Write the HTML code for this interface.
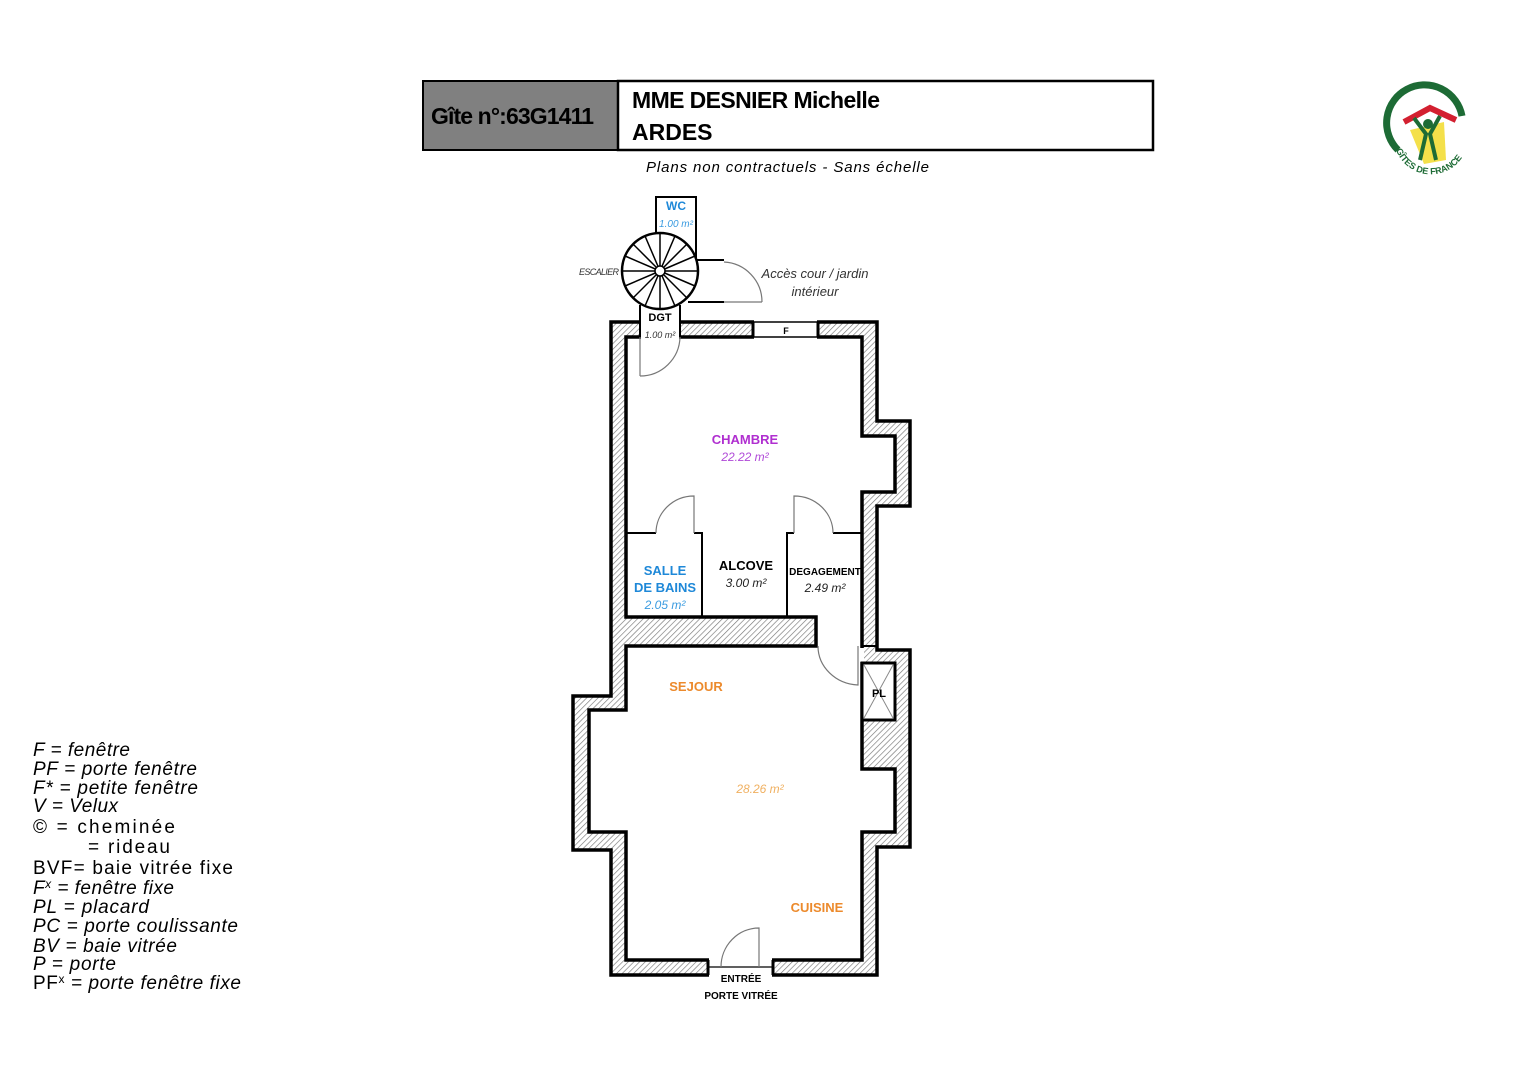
<!DOCTYPE html>
<html><head><meta charset="utf-8"><style>
html,body{margin:0;padding:0;background:#fff;}
svg{display:block;font-family:"Liberation Sans",sans-serif;}
</style></head><body>
<svg width="1528" height="1080" viewBox="0 0 1528 1080" xmlns="http://www.w3.org/2000/svg">
<defs>
<pattern id="h" width="4" height="4" patternUnits="userSpaceOnUse" patternTransform="rotate(45)">
<rect width="4" height="4" fill="#fff"/><line x1="0" y1="0" x2="0" y2="4" stroke="#777" stroke-width="1.3"/>
</pattern>
<path id="lp" d="M1396 150 A34 34 0 0 0 1466 124"/>
</defs>
<!-- header -->
<rect x="423" y="81" width="195" height="69" fill="#808080" stroke="#000" stroke-width="2"/>
<rect x="618" y="81" width="535" height="69" fill="#fff" stroke="#000" stroke-width="2.5"/>
<text x="431" y="124" font-size="23" font-weight="bold" textLength="163">Gîte n°:63G1411</text>
<text x="632" y="108" font-size="23" font-weight="bold" textLength="248">MME DESNIER Michelle</text>
<text x="632" y="140" font-size="23" font-weight="bold">ARDES</text>
<text x="646" y="172" font-size="15" font-style="italic" textLength="283">Plans non contractuels - Sans échelle</text>
<!-- logo -->
<path d="M1398 150 A38 38 0 1 1 1462 116" fill="none" stroke="#1d6b35" stroke-width="7"/>
<path d="M1404 122 L1430 108 L1456 120" fill="none" stroke="#d32030" stroke-width="6"/>
<path d="M1410 130 L1444 122 L1446 160 L1424 164 Z" fill="#f4e04a"/>
<circle cx="1428" cy="124" r="5" fill="#1d6b35"/>
<path d="M1414 118 L1426 134 L1420 160 M1440 116 L1430 134 L1436 160" stroke="#1d6b35" stroke-width="4" fill="none"/>
<text font-size="9" font-weight="bold" fill="#1d6b35"><textPath href="#lp">GÎTES DE FRANCE</textPath></text>
<!-- walls -->
<path d="M611 322 L877 322 L877 421 L910 421 L910 506 L877 506 L877 650 L910 650 L910 847 L877 847 L877 975 L611 975 L611 850 L573 850 L573 696 L611 696 Z" fill="url(#h)" stroke="#000" stroke-width="3.5"/>
<path d="M626 337 L862 337 L862 436 L895 436 L895 492 L862 492 L862 769 L895 769 L895 832 L862 832 L862 960 L626 960 L626 832 L589 832 L589 710 L626 710 L626 646 L816 646 L816 617 L626 617 Z" fill="#fff" stroke="#000" stroke-width="3.5"/>
<rect x="860" y="648" width="4" height="14" fill="#fff"/>
<line x1="862" y1="646" x2="877" y2="646" stroke="#000" stroke-width="2"/>
<!-- PL -->
<rect x="862" y="663" width="33" height="57" fill="#fff" stroke="#000" stroke-width="3"/>
<line x1="864" y1="665" x2="893" y2="718" stroke="#888" stroke-width="1"/>
<line x1="893" y1="665" x2="864" y2="718" stroke="#888" stroke-width="1"/>
<text x="879" y="697" font-size="11" font-weight="bold" text-anchor="middle">PL</text>
<!-- top openings -->
<rect x="641" y="319" width="38" height="20" fill="#fff"/>
<line x1="640" y1="305" x2="640" y2="337" stroke="#000" stroke-width="2"/>
<line x1="680" y1="305" x2="680" y2="337" stroke="#000" stroke-width="2"/>
<rect x="754" y="319" width="63" height="20" fill="#fff"/>
<line x1="753" y1="322" x2="818" y2="322" stroke="#000" stroke-width="1.5"/>
<line x1="753" y1="337" x2="818" y2="337" stroke="#000" stroke-width="1.5"/>
<line x1="753" y1="322" x2="753" y2="337" stroke="#000" stroke-width="3"/>
<line x1="818" y1="322" x2="818" y2="337" stroke="#000" stroke-width="3"/>
<text x="786" y="334" font-size="9" font-weight="bold" text-anchor="middle">F</text>
<line x1="640" y1="337" x2="640" y2="376" stroke="#777" stroke-width="1.2"/>
<path d="M680 337 A40 40 0 0 1 640 376" fill="none" stroke="#777" stroke-width="1.2"/>
<!-- WC -->
<rect x="656" y="197" width="40" height="61" fill="#fff" stroke="#000" stroke-width="2"/>
<text x="676" y="210" font-size="12" font-weight="bold" fill="#1e88d8" text-anchor="middle">WC</text>
<text x="676" y="227" font-size="10" font-style="italic" fill="#3a9be0" text-anchor="middle">1.00 m²</text>
<!-- stair -->
<circle cx="660" cy="271" r="38" fill="#fff" stroke="#000" stroke-width="2.5"/>
<g stroke="#000" stroke-width="1.5">
<line x1="660" y1="271" x2="698" y2="271"/><line x1="660" y1="271" x2="695" y2="256"/><line x1="660" y1="271" x2="687" y2="244"/><line x1="660" y1="271" x2="675" y2="236"/><line x1="660" y1="271" x2="660" y2="233"/><line x1="660" y1="271" x2="645" y2="236"/><line x1="660" y1="271" x2="633" y2="244"/><line x1="660" y1="271" x2="625" y2="256"/><line x1="660" y1="271" x2="622" y2="271"/><line x1="660" y1="271" x2="625" y2="286"/><line x1="660" y1="271" x2="633" y2="298"/><line x1="660" y1="271" x2="645" y2="306"/><line x1="660" y1="271" x2="660" y2="309"/><line x1="660" y1="271" x2="675" y2="306"/><line x1="660" y1="271" x2="687" y2="298"/><line x1="660" y1="271" x2="695" y2="286"/>
</g>
<circle cx="660" cy="271" r="5" fill="#fff" stroke="#000" stroke-width="1.5"/>
<text x="579" y="275" font-size="9" font-style="italic" fill="#333" textLength="40">ESCALIER</text>
<line x1="697" y1="260" x2="724" y2="260" stroke="#000" stroke-width="2"/>
<line x1="688" y1="302" x2="724" y2="302" stroke="#000" stroke-width="2"/>
<line x1="724" y1="302" x2="762" y2="302" stroke="#777" stroke-width="1.2"/>
<path d="M724 262 A40 40 0 0 1 762 302" fill="none" stroke="#777" stroke-width="1.2"/>
<text x="815" y="278" font-size="13" font-style="italic" fill="#333" text-anchor="middle">Accès cour / jardin</text>
<text x="815" y="296" font-size="13" font-style="italic" fill="#333" text-anchor="middle">intérieur</text>
<text x="660" y="321" font-size="11" font-weight="bold" text-anchor="middle">DGT</text>
<text x="660" y="338" font-size="9" font-style="italic" fill="#333" text-anchor="middle">1.00 m²</text>
<!-- partitions -->
<g stroke="#000" stroke-width="2" fill="none">
<path d="M626 533 L656 533 M694 533 L702 533 L702 617"/>
<path d="M787 617 L787 533 L794 533 M833 533 L862 533"/>
</g>
<g stroke="#777" stroke-width="1.2" fill="none">
<path d="M694 533 L694 496 A38 37 0 0 0 656 533"/>
<path d="M794 533 L794 496 A39 37 0 0 1 833 533"/>
<path d="M858 646 L858 685 A42 39 0 0 1 818 646"/>
</g>
<!-- entrance -->
<rect x="709" y="957" width="63" height="20" fill="#fff"/>
<line x1="708" y1="960" x2="708" y2="975" stroke="#000" stroke-width="3"/>
<line x1="773" y1="960" x2="773" y2="975" stroke="#000" stroke-width="3"/>
<line x1="708" y1="967" x2="773" y2="967" stroke="#000" stroke-width="1.2"/>
<path d="M759 967 L759 928 A38 39 0 0 0 721 967" fill="none" stroke="#777" stroke-width="1.2"/>
<text x="741" y="982" font-size="10" font-weight="bold" text-anchor="middle">ENTRÉE</text>
<text x="741" y="999" font-size="10" font-weight="bold" text-anchor="middle">PORTE VITRÉE</text>
<!-- room labels -->
<text x="745" y="444" font-size="13" font-weight="bold" fill="#b02fd0" text-anchor="middle">CHAMBRE</text>
<text x="745" y="461" font-size="12" font-style="italic" fill="#b04ad8" text-anchor="middle">22.22 m²</text>
<text x="665" y="575" font-size="13" font-weight="bold" fill="#1e88d8" text-anchor="middle">SALLE</text>
<text x="665" y="592" font-size="13" font-weight="bold" fill="#1e88d8" text-anchor="middle">DE BAINS</text>
<text x="665" y="609" font-size="12" font-style="italic" fill="#3a9be0" text-anchor="middle">2.05 m²</text>
<text x="746" y="570" font-size="13" font-weight="bold" text-anchor="middle">ALCOVE</text>
<text x="746" y="587" font-size="12" font-style="italic" fill="#222" text-anchor="middle">3.00 m²</text>
<text x="825" y="575" font-size="10" font-weight="bold" text-anchor="middle">DEGAGEMENT</text>
<text x="825" y="592" font-size="12" font-style="italic" fill="#222" text-anchor="middle">2.49 m²</text>
<text x="696" y="691" font-size="13" font-weight="bold" fill="#ec8a2c" text-anchor="middle">SEJOUR</text>
<text x="760" y="793" font-size="12" font-style="italic" fill="#f0b060" text-anchor="middle">28.26 m²</text>
<text x="817" y="912" font-size="13" font-weight="bold" fill="#ec8a2c" text-anchor="middle">CUISINE</text>
<!-- legend -->
<g font-size="19" fill="#000">
<text x="33" y="756" font-style="italic" textLength="97">F = fenêtre</text>
<text x="33" y="775" font-style="italic" textLength="164">PF = porte fenêtre</text>
<text x="33" y="794" font-style="italic" textLength="165">F* = petite fenêtre</text>
<text x="33" y="812" font-style="italic" textLength="85">V = Velux</text>
<text x="33" y="833" textLength="142">© = cheminée</text>
<text x="88" y="853" textLength="82">= rideau</text>
<text x="33" y="874" textLength="200">BVF= baie vitrée fixe</text>
<text x="33" y="894" font-style="italic" textLength="141">F<tspan font-size="12" dy="-6">x</tspan><tspan dy="6"> = fenêtre fixe</tspan></text>
<text x="33" y="913" font-style="italic" textLength="116">PL = placard</text>
<text x="33" y="932" font-style="italic" textLength="205">PC = porte coulissante</text>
<text x="33" y="952" font-style="italic" textLength="144">BV = baie vitrée</text>
<text x="33" y="970" font-style="italic" textLength="83">P = porte</text>
<text x="33" y="989" textLength="208">PF<tspan font-size="12" dy="-6">x</tspan><tspan dy="6" font-style="italic"> = porte fenêtre fixe</tspan></text>
</g>
</svg>
</body></html>
